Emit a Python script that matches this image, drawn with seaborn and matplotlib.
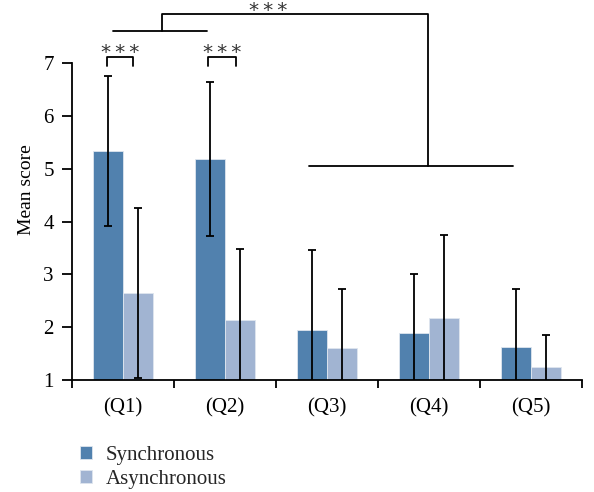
import matplotlib
matplotlib.use("Agg")
import matplotlib.pyplot as plt
import seaborn as sns
import pandas as pd

categories = ["(Q1)", "(Q2)", "(Q3)", "(Q4)", "(Q5)"]
groups = ["Synchronous", "Asynchronous"]
sync_mean = [5.34, 5.19, 1.95, 1.90, 1.62]
sync_sd = [1.42, 1.46, 1.52, 1.11, 1.11]
async_mean = [2.64, 2.13, 1.60, 2.17, 1.25]
async_sd = [1.61, 1.35, 1.13, 1.57, 0.61]
colors = ["#5181AE", "#A1B4D2"]

df = pd.DataFrame({
    "question": categories * 2,
    "group": [groups[0]] * 5 + [groups[1]] * 5,
    "mean": sync_mean + async_mean,
})
sds = {groups[0]: sync_sd, groups[1]: async_sd}

sns.set_theme(style="ticks")
plt.rcParams["font.family"] = ["Liberation Serif", "DejaVu Serif"]

fig = plt.figure(figsize=(5.94, 4.92), dpi=100)
ax = fig.add_axes([0.1212, 0.2276, 0.8586, 0.7724])

sns.barplot(data=df, x="question", y="mean", hue="group", hue_order=groups,
            palette=colors, width=0.58, errorbar=None, ax=ax,
            edgecolor="#dfe6ef", linewidth=0.6, saturation=1)

for cont, g in zip(ax.containers, groups):
    xs = [p.get_x() + p.get_width() / 2 for p in cont.patches]
    hs = [p.get_height() for p in cont.patches]
    ax.errorbar(xs, hs, yerr=sds[g], fmt="none", ecolor="black",
                elinewidth=1.3, capsize=3, capthick=1.3)

ax.set_ylim(1, 8.2)
ax.set_xlim(-0.5, 4.5)
ax.set_yticks(range(1, 8))
ax.spines["left"].set_bounds(1, 7)
ax.spines["top"].set_visible(False)
ax.spines["right"].set_visible(False)
for s in ("left", "bottom"):
    ax.spines[s].set_color("black")
    ax.spines[s].set_linewidth(1.3)

ax.set_xticks(range(5))
ax.set_xticklabels(categories)
ax.tick_params(axis="x", which="major", length=0, labelsize=15, pad=13, colors="black")
ax.set_xticks([-0.5, 0.5, 1.5, 2.5, 3.5, 4.5], minor=True)
ax.tick_params(axis="x", which="minor", length=6, width=1.3, color="black", direction="out")
ax.tick_params(axis="y", length=7, width=1.3, labelsize=15, colors="black", pad=6)
ax.set_xlabel("")
ax.set_ylabel("Mean score", fontsize=14, labelpad=6, color="black")

lw = 1.3
stars = "*\u2009*\u2009*"
star_kw = dict(ha="center", va="baseline", fontsize=14.5, family="DejaVu Sans",
               color="#333333", clip_on=False)
# small brackets
for x0, x1 in [(-0.16, 0.10), (0.83, 1.11)]:
    ax.plot([x0, x0, x1, x1], [6.95, 7.12, 7.12, 6.95], color="black", lw=lw, clip_on=False)
    ax.text((x0 + x1) / 2, 7.10, stars, **star_kw)

# large bracket
ax.plot([-0.10, 0.82], [7.61, 7.61], color="black", lw=lw, clip_on=False)
ax.plot([0.38, 0.38, 2.99, 2.99], [7.61, 7.93, 7.93, 5.05], color="black", lw=lw, clip_on=False)
ax.plot([1.82, 3.82], [5.05, 5.05], color="black", lw=lw, clip_on=False)
ax.text(1.42, 7.90, stars, **star_kw)

h, l = ax.get_legend_handles_labels()
ax.legend_.remove()
fig.legend(h, l, loc="upper left", bbox_to_anchor=(0.117, 0.115), frameon=False,
           fontsize=15, handlelength=0.6, handleheight=0.55, handletextpad=0.65,
           labelspacing=0.25, borderpad=0)

fig.savefig("out.png", dpi=100)
